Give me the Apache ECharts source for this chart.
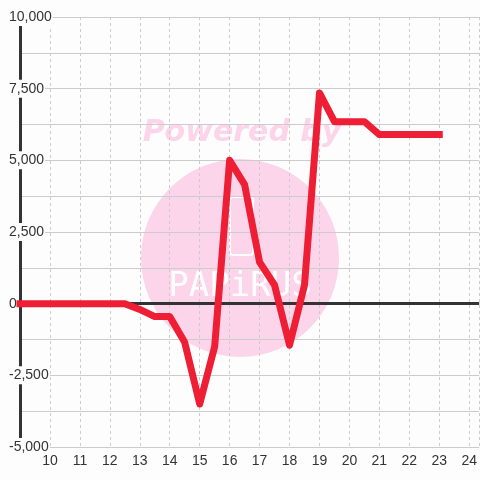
<!DOCTYPE html>
<html>
<head>
<meta charset="utf-8">
<script src="https://cdn.jsdelivr.net/npm/echarts@6/dist/echarts.min.js"></script>
<style>
  html, body { margin: 0; padding: 0; background: #fdfdfd; }
  #chart { width: 480px; height: 480px; }
</style>
</head>
<body>
<div id="chart"></div>
<script>
// x positions (half steps) and the values
var xValues = [9, 9.5, 10, 10.5, 11, 11.5, 12, 12.5, 13, 13.5, 14, 14.5, 15, 15.5, 16, 16.5,
  17, 17.5, 18, 18.5, 19, 19.5, 20, 20.5, 21, 21.5, 22, 22.5, 23];
var yValues = [0, 0, 0, 0, 0, 0, 0, 0, -200, -450, -450, -1350, -3500, -1500, 5000, 4150,
  1450, 650, -1450, 650, 7350, 6350, 6350, 6350, 5900, 5900, 5900, 5900, 5900];
var yTicks = [-5000, 10000, 2500];   // min, max, step
var xTicks = [9, 24.333, 1];

var points = xValues.map(function (x, i) { return [x, yValues[i]]; });

var chart = echarts.init(document.getElementById('chart'));
var bg = '#fdfdfd';

chart.setOption({
  backgroundColor: bg,
  animation: false,
  grid: { left: 20, right: 0, top: 17, bottom: 33 },
  graphic: [
    { type: 'circle', z: -10, shape: { cx: 240, cy: 258, r: 99 }, style: { fill: '#fcd5ea' } },
    { type: 'text', z: -10, x: 242, y: 133, style: {
        text: 'Powered by', fill: '#fcd5ea', font: 'italic bold 30px "DejaVu Sans"',
        align: 'center', verticalAlign: 'middle' } },
    { type: 'rect', z: -9, shape: { x: 230, y: 197, width: 23, height: 58, r: 3 },
      style: { fill: 'none', stroke: '#ffffff', lineWidth: 2 } },
    { type: 'text', z: -9, x: 240, y: 287, style: {
        text: 'PAPiRUS', fill: '#ffffff', font: '34px "DejaVu Sans Mono"',
        align: 'center', verticalAlign: 'middle' } }
  ],
  xAxis: {
    type: 'value',
    min: xTicks[0], max: xTicks[1], interval: xTicks[2],
    axisLine: { show: false },
    axisTick: { show: false },
    axisLabel: {
      color: '#333', fontSize: 14, fontFamily: 'Liberation Sans', margin: 7,
      showMinLabel: false, showMaxLabel: false,
      formatter: function (v) { return Number.isInteger(v) ? String(v) : ''; }
    },
    splitLine: { show: true, lineStyle: { color: '#cccccc', type: [3, 3], width: 1 } }
  },
  yAxis: {
    type: 'value',
    min: yTicks[0], max: yTicks[1], interval: yTicks[2],
    axisLine: { show: true, lineStyle: { color: '#333', width: 3 } },
    axisTick: { show: false },
    axisLabel: {
      color: '#333', fontSize: 14, fontFamily: 'Liberation Sans',
      align: 'left', margin: 12,
      backgroundColor: bg, padding: [2, 1],
      formatter: function (v) { return v.toLocaleString('en-US'); }
    },
    splitLine: { show: true, lineStyle: { color: '#cccccc', width: 1 } },
    minorTick: { show: false, splitNumber: 2 },
    minorSplitLine: { show: true, lineStyle: { color: '#cccccc', width: 1 } }
  },
  series: [
    {
      // zero line
      type: 'line',
      data: [],
      z: 3,
      markLine: {
        silent: true,
        symbol: 'none',
        label: { show: false },
        lineStyle: { color: '#333', width: 3, type: 'solid' },
        data: [{ yAxis: 0 }]
      }
    },
    {
      type: 'line',
      data: points,
      showSymbol: false,
      symbol: 'none',
      lineStyle: { color: '#ee1f35', width: 7, join: 'round', cap: 'square' },
      z: 5
    }
  ]
});
</script>
</body>
</html>
